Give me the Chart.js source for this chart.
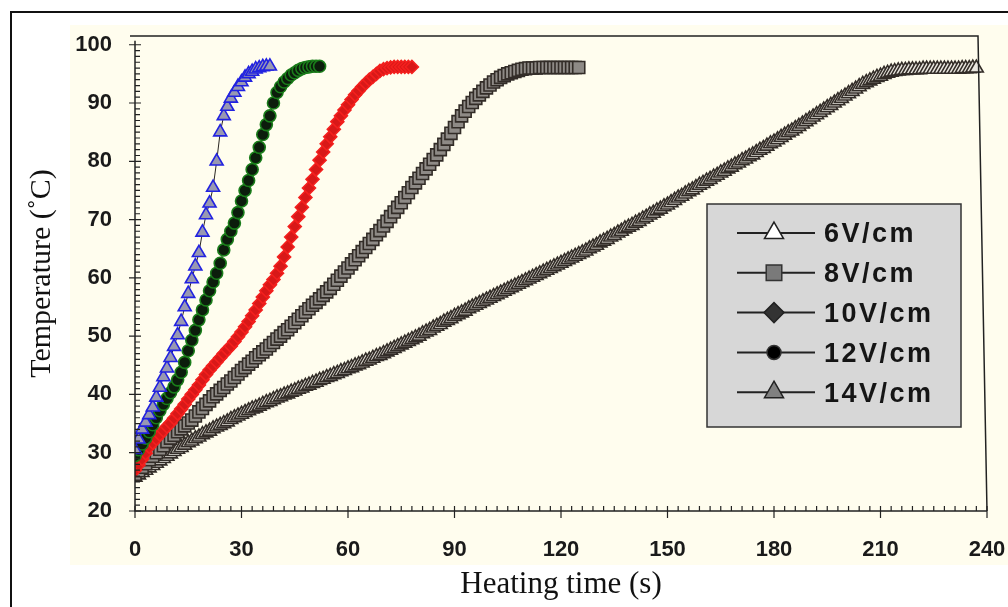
<!DOCTYPE html>
<html>
<head>
<meta charset="utf-8">
<script src="https://cdn.jsdelivr.net/npm/chart.js@4.4.1/dist/chart.umd.min.js"></script>
<style>
html, body { margin: 0; padding: 0; background: #fff; overflow: hidden; }
#wrap { position: relative; width: 1008px; height: 607px; }
</style>
</head>
<body>
<div id="wrap"><canvas id="myChart" width="1008" height="607"></canvas></div>
<script>
'use strict';

// heating curves, one reading per second (temperature in deg C)
var time6 = [0, 1, 2, 3, 4, 5, 6, 7, 8, 9, 10, 11, 12, 13, 14, 15, 16, 17, 18, 19,
    20, 21, 22, 23, 24, 25, 26, 27, 28, 29, 30, 31, 32, 33, 34, 35, 36, 37, 38, 39,
    40, 41, 42, 43, 44, 45, 46, 47, 48, 49, 50, 51, 52, 53, 54, 55, 56, 57, 58, 59,
    60, 61, 62, 63, 64, 65, 66, 67, 68, 69, 70, 71, 72, 73, 74, 75, 76, 77, 78, 79,
    80, 81, 82, 83, 84, 85, 86, 87, 88, 89, 90, 91, 92, 93, 94, 95, 96, 97, 98, 99,
    100, 101, 102, 103, 104, 105, 106, 107, 108, 109, 110, 111, 112, 113, 114, 115, 116, 117, 118, 119,
    120, 121, 122, 123, 124, 125, 126, 127, 128, 129, 130, 131, 132, 133, 134, 135, 136, 137, 138, 139,
    140, 141, 142, 143, 144, 145, 146, 147, 148, 149, 150, 151, 152, 153, 154, 155, 156, 157, 158, 159,
    160, 161, 162, 163, 164, 165, 166, 167, 168, 169, 170, 171, 172, 173, 174, 175, 176, 177, 178, 179,
    180, 181, 182, 183, 184, 185, 186, 187, 188, 189, 190, 191, 192, 193, 194, 195, 196, 197, 198, 199,
    200, 201, 202, 203, 204, 205, 206, 207, 208, 209, 210, 211, 212, 213, 214, 215, 216, 217, 218, 219,
    220, 221, 222, 223, 224, 225, 226, 227, 228, 229, 230, 231, 232, 233, 234, 235, 236, 237];
var temp6 = [25.8, 26.2, 26.6, 27.0, 27.4, 27.8, 28.2, 28.6, 29.0, 29.4, 29.8, 30.2, 30.6, 30.9, 31.3, 31.7, 32.0, 32.4, 32.7, 33.1,
    33.4, 33.7, 34.1, 34.4, 34.7, 35.0, 35.3, 35.7, 36.0, 36.3, 36.6, 36.9, 37.2, 37.5, 37.7, 38.0, 38.3, 38.6, 38.8, 39.1,
    39.4, 39.6, 39.9, 40.1, 40.4, 40.6, 40.9, 41.1, 41.4, 41.6, 41.9, 42.1, 42.4, 42.6, 42.9, 43.1, 43.4, 43.6, 43.9, 44.1,
    44.4, 44.6, 44.9, 45.1, 45.4, 45.7, 45.9, 46.2, 46.5, 46.7, 47.0, 47.3, 47.6, 47.9, 48.2, 48.5, 48.8, 49.1, 49.4, 49.7,
    50.0, 50.4, 50.7, 51.0, 51.4, 51.7, 52.0, 52.4, 52.7, 53.0, 53.4, 53.7, 54.0, 54.3, 54.7, 55.0, 55.3, 55.6, 55.9, 56.2,
    56.5, 56.8, 57.1, 57.4, 57.7, 58.0, 58.3, 58.6, 58.9, 59.2, 59.5, 59.8, 60.1, 60.4, 60.7, 61.0, 61.3, 61.6, 61.9, 62.2,
    62.5, 62.8, 63.1, 63.4, 63.7, 64.0, 64.3, 64.6, 65.0, 65.3, 65.6, 66.0, 66.3, 66.6, 67.0, 67.3, 67.7, 68.0, 68.4, 68.7,
    69.0, 69.4, 69.7, 70.1, 70.4, 70.8, 71.1, 71.5, 71.8, 72.2, 72.5, 72.9, 73.3, 73.7, 74.0, 74.4, 74.8, 75.1, 75.5, 75.9,
    76.2, 76.6, 76.9, 77.3, 77.6, 78.0, 78.3, 78.7, 79.0, 79.4, 79.7, 80.1, 80.4, 80.8, 81.1, 81.5, 81.9, 82.2, 82.6, 83.0,
    83.3, 83.7, 84.1, 84.5, 84.9, 85.2, 85.6, 86.0, 86.4, 86.8, 87.2, 87.6, 88.0, 88.4, 88.8, 89.2, 89.6, 90.0, 90.4, 90.8,
    91.2, 91.6, 92.0, 92.4, 92.8, 93.2, 93.5, 93.8, 94.1, 94.4, 94.6, 94.9, 95.1, 95.3, 95.4, 95.5, 95.6, 95.6, 95.7, 95.7,
    95.7, 95.7, 95.8, 95.8, 95.8, 95.8, 95.8, 95.8, 95.8, 95.8, 95.8, 95.8, 95.8, 95.9, 95.9, 95.9, 96.0, 96.0];

var time8 = [0, 1, 2, 3, 4, 5, 6, 7, 8, 9, 10, 11, 12, 13, 14, 15, 16, 17, 18, 19,
    20, 21, 22, 23, 24, 25, 26, 27, 28, 29, 30, 31, 32, 33, 34, 35, 36, 37, 38, 39,
    40, 41, 42, 43, 44, 45, 46, 47, 48, 49, 50, 51, 52, 53, 54, 55, 56, 57, 58, 59,
    60, 61, 62, 63, 64, 65, 66, 67, 68, 69, 70, 71, 72, 73, 74, 75, 76, 77, 78, 79,
    80, 81, 82, 83, 84, 85, 86, 87, 88, 89, 90, 91, 92, 93, 94, 95, 96, 97, 98, 99,
    100, 101, 102, 103, 104, 105, 106, 107, 108, 109, 110, 111, 112, 113, 114, 115, 116, 117, 118, 119,
    120, 121, 122, 123, 124, 125];
var temp8 = [26.3, 26.9, 27.5, 28.1, 28.8, 29.4, 30.0, 30.6, 31.2, 31.9, 32.5, 33.0, 33.6, 34.1, 34.6, 35.1, 35.6, 36.3, 37.0, 37.6,
    38.3, 38.9, 39.6, 40.1, 40.7, 41.2, 41.8, 42.3, 42.9, 43.5, 44.1, 44.6, 45.2, 45.7, 46.3, 46.8, 47.3, 47.8, 48.4, 48.9,
    49.5, 50.0, 50.6, 51.1, 51.7, 52.3, 52.9, 53.5, 54.1, 54.7, 55.3, 55.8, 56.4, 57.0, 57.6, 58.2, 58.9, 59.6, 60.3, 61.0,
    61.7, 62.4, 63.1, 63.8, 64.5, 65.2, 65.9, 66.6, 67.4, 68.1, 68.9, 69.7, 70.5, 71.3, 72.1, 72.9, 73.8, 74.6, 75.5, 76.3,
    77.1, 77.9, 78.7, 79.5, 80.3, 81.1, 82.0, 82.9, 83.8, 84.8, 85.8, 86.8, 87.8, 88.6, 89.4, 90.1, 90.8, 91.4, 92.0, 92.6,
    93.1, 93.6, 94.0, 94.4, 94.7, 95.0, 95.2, 95.4, 95.6, 95.8, 95.9, 96.0, 96.0, 96.0, 96.1, 96.1, 96.1, 96.1, 96.1, 96.1,
    96.1, 96.1, 96.1, 96.1, 96.1, 96.1];

var time10 = [0, 1, 2, 3, 4, 5, 6, 7, 8, 9, 10, 11, 12, 13, 14, 15, 16, 17, 18, 19,
    20, 21, 22, 23, 24, 25, 26, 27, 28, 29, 30, 31, 32, 33, 34, 35, 36, 37, 38, 39,
    40, 41, 42, 43, 44, 45, 46, 47, 48, 49, 50, 51, 52, 53, 54, 55, 56, 57, 58, 59,
    60, 61, 62, 63, 64, 65, 66, 67, 68, 69, 70, 71, 72, 73, 74, 75, 76, 77, 78];
var temp10 = [27.0, 27.9, 28.9, 29.9, 31.0, 31.7, 32.4, 33.1, 33.8, 34.5, 35.1, 35.9, 36.7, 37.5, 38.3, 39.2, 40.0, 40.8, 41.6, 42.5,
    43.4, 44.2, 44.9, 45.6, 46.3, 47.0, 47.7, 48.3, 49.1, 49.9, 50.7, 51.6, 52.5, 53.5, 54.5, 55.6, 56.7, 57.8, 58.8, 59.7,
    60.8, 62.0, 63.6, 65.3, 67.0, 68.8, 70.5, 72.1, 73.8, 75.4, 76.9, 78.6, 80.2, 81.6, 83.0, 84.2, 85.5, 86.8, 87.8, 88.8,
    89.7, 90.6, 91.4, 92.1, 92.8, 93.4, 94.0, 94.5, 95.0, 95.5, 95.8, 96.0, 96.1, 96.2, 96.2, 96.2, 96.2, 96.2, 96.2];

var time12 = [0, 1, 2, 3, 4, 5, 6, 7, 8, 9, 10, 11, 12, 13, 14, 15, 16, 17, 18, 19,
    20, 21, 22, 23, 24, 25, 26, 27, 28, 29, 30, 31, 32, 33, 34, 35, 36, 37, 38, 39,
    40, 41, 42, 43, 44, 45, 46, 47, 48, 49, 50, 51, 52];
var temp12 = [29.5, 30.5, 31.5, 32.5, 33.6, 34.8, 36.0, 37.2, 38.3, 39.3, 40.3, 41.3, 42.5, 43.8, 45.5, 47.5, 49.3, 51.0, 52.8, 54.5,
    56.2, 57.8, 59.3, 60.8, 62.5, 64.8, 66.6, 68.0, 69.4, 71.2, 73.2, 75.0, 76.7, 78.6, 80.6, 82.4, 84.6, 86.3, 87.8, 90.0,
    91.8, 92.8, 93.6, 94.2, 94.8, 95.2, 95.6, 95.9, 96.1, 96.2, 96.3, 96.3, 96.3];

var time14 = [0, 1, 2, 3, 4, 5, 6, 7, 8, 9, 10, 11, 12, 13, 14, 15, 16, 17, 18, 19,
    20, 21, 22, 23, 24, 25, 26, 27, 28, 29, 30, 31, 32, 33, 34, 35, 36, 37, 38];
var temp14 = [30.5, 32.3, 34.0, 35.2, 36.5, 37.8, 39.5, 41.2, 43.0, 44.5, 46.3, 48.2, 50.2, 52.5, 55.0, 57.3, 59.8, 62.0, 64.3, 67.8,
    70.8, 72.8, 75.5, 80.0, 85.0, 87.8, 89.4, 90.8, 91.8, 92.8, 93.6, 94.4, 95.0, 95.4, 95.8, 96.0, 96.2, 96.3, 96.3];

var seriesLabels = ['6V/cm', '8V/cm', '10V/cm', '12V/cm', '14V/cm'];
var xTicks = [0, 30, 60, 90, 120, 150, 180, 210, 240];
var yTicks = [20, 30, 40, 50, 60, 70, 80, 90, 100];

function pts(xs, ys) {
    return xs.map(function (x, i) { return {x: x, y: ys[i]}; });
}

var lineColor = '#2a2622';

function series(label, data, style, fill, stroke, radius, order, legend) {
    return {
        label: label,
        data: data,
        borderColor: lineColor,
        borderWidth: 1,
        pointStyle: style,
        pointRadius: radius,
        pointHoverRadius: radius,
        pointBackgroundColor: fill,
        pointBorderColor: stroke,
        pointBorderWidth: 1.6,
        order: order,
        legendMark: legend
    };
}

var datasets = [
    series(seriesLabels[0], pts(time6, temp6), 'triangle', '#e9e6df', '#332d28', 8, 5,
        {fill: '#ffffff', stroke: '#222', r: 11}),
    series(seriesLabels[1], pts(time8, temp8), 'rect', '#8e8a86', '#332d28', 8.5, 4,
        {fill: '#7a7a7a', stroke: '#333', r: 11}),
    series(seriesLabels[2], pts(time10, temp10), 'rectRot', '#d81818', '#f3201e', 6.5, 3,
        {fill: '#333', stroke: '#222', r: 10}),
    series(seriesLabels[3], pts(time12, temp12), 'circle', '#0c1d0c', '#1a7d1a', 6, 2,
        {fill: '#000', stroke: '#333', r: 7}),
    series(seriesLabels[4], pts(time14, temp14), 'triangle', '#9898b2', '#2222e0', 7.5, 1,
        {fill: '#808080', stroke: '#222', r: 11})
];

// page background, ivory panel and the outer frame
var backdrop = {
    id: 'backdrop',
    beforeDraw: function (chart) {
        var ctx = chart.ctx;
        ctx.save();
        ctx.fillStyle = '#ffffff';
        ctx.fillRect(0, 0, chart.width, chart.height);
        ctx.fillStyle = '#fffdee';
        ctx.fillRect(70, 25, chart.width - 70, 540);
        ctx.strokeStyle = '#111';
        ctx.lineWidth = 2;
        ctx.strokeRect(11, 12, chart.width + 20, chart.height + 20);
        ctx.restore();
    }
};

// axis lines, crossing major ticks, minor ticks, box lines and the legend
var decor = {
    id: 'decor',
    afterDraw: function (chart) {
        var ctx = chart.ctx;
        var xs = chart.scales.x, ys = chart.scales.y;
        var a = chart.chartArea;
        var x0 = xs.getPixelForValue(0), y0 = ys.getPixelForValue(20);
        var yTop = ys.getPixelForValue(100);
        var i, p;
        ctx.save();
        ctx.strokeStyle = '#222';
        ctx.lineWidth = 1.5;
        ctx.beginPath();
        ctx.moveTo(x0, yTop - 4);
        ctx.lineTo(x0, y0);
        ctx.lineTo(xs.getPixelForValue(240), y0);
        ctx.stroke();

        ctx.beginPath();
        ctx.moveTo(x0 - 5, a.top);
        ctx.lineTo(a.right - 9, a.top);
        ctx.lineTo(a.right, y0);
        ctx.stroke();

        ctx.lineWidth = 1.2;
        ctx.beginPath();
        for (i = 20; i <= 100; i++) {
            p = ys.getPixelForValue(i);
            if (i % 10 === 0) {
                ctx.moveTo(x0 - 6, p);
                ctx.lineTo(x0 + 6, p);
            } else {
                ctx.moveTo(x0, p);
                ctx.lineTo(x0 + 5, p);
            }
        }
        for (i = 0; i <= 240; i += 3) {
            p = xs.getPixelForValue(i);
            if (i % 30 === 0) {
                ctx.moveTo(p, y0 - 5);
                ctx.lineTo(p, y0 + 7);
            } else {
                ctx.moveTo(p, y0 - 5);
                ctx.lineTo(p, y0);
            }
        }
        ctx.stroke();

        // legend
        ctx.fillStyle = '#d7d7d7';
        ctx.fillRect(707, 204, 254, 223);
        ctx.strokeStyle = '#333';
        ctx.lineWidth = 1.5;
        ctx.strokeRect(707, 204, 254, 223);
        chart.data.datasets.forEach(function (ds, k) {
            var ly = 233 + k * 39.8;
            var m = ds.legendMark;
            ctx.strokeStyle = '#222';
            ctx.lineWidth = 2;
            ctx.beginPath();
            ctx.moveTo(737, ly);
            ctx.lineTo(815, ly);
            ctx.stroke();
            ctx.fillStyle = m.fill;
            ctx.strokeStyle = m.stroke;
            ctx.lineWidth = 1.5;
            Chart.helpers.drawPoint(ctx, {pointStyle: ds.pointStyle, radius: m.r, borderWidth: 1.5, rotation: 0}, 774, ly);
            ctx.fillStyle = '#151515';
            ctx.font = 'bold 27px "Liberation Sans", Arial, sans-serif';
            ctx.letterSpacing = '2.5px';
            ctx.textBaseline = 'middle';
            ctx.textAlign = 'left';
            ctx.fillText(ds.label, 824, ly + 2);
        });
        ctx.restore();
    }
};

var ctx = document.getElementById('myChart').getContext('2d');
var myChart = new Chart(ctx, {
    type: 'line',
    data: {datasets: datasets},
    plugins: [backdrop, decor],
    options: {
        responsive: false,
        animation: false,
        devicePixelRatio: 1,
        layout: {padding: {left: 0, top: 36, right: 21, bottom: 0}},
        plugins: {
            legend: {display: false},
            tooltip: {enabled: false}
        },
        scales: {
            x: {
                type: 'linear',
                min: 0,
                max: 240,
                grid: {display: false, drawTicks: false},
                border: {display: false},
                afterBuildTicks: function (scale) {
                    scale.ticks = xTicks.map(function (v) { return {value: v}; });
                },
                afterFit: function (scale) {
                    scale.height = 96;
                    scale.paddingLeft = 0;
                    scale.paddingRight = 0;
                },
                ticks: {
                    padding: 26,
                    maxRotation: 0,
                    color: '#1a1a1a',
                    font: {family: '"Liberation Sans", Arial, sans-serif', size: 22, weight: 'bold'}
                },
                title: {
                    display: true,
                    text: 'Heating time (s)',
                    color: '#111',
                    padding: {top: 0, bottom: 4},
                    font: {family: '"Liberation Serif", "Times New Roman", serif', size: 31, weight: 'normal'}
                }
            },
            y: {
                type: 'linear',
                min: 20,
                max: 101.5,
                grid: {display: false, drawTicks: false},
                border: {display: false},
                afterBuildTicks: function (scale) {
                    scale.ticks = yTicks.map(function (v) { return {value: v}; });
                },
                afterFit: function (scale) {
                    scale.width = 135;
                    scale.paddingTop = 0;
                    scale.paddingBottom = 0;
                },
                ticks: {
                    padding: 23,
                    color: '#1a1a1a',
                    font: {family: '"Liberation Sans", Arial, sans-serif', size: 22, weight: 'bold'}
                },
                title: {
                    display: true,
                    text: 'Temperature (˚C)',
                    color: '#111',
                    padding: {top: 24, bottom: 0},
                    font: {family: '"Liberation Serif", "Times New Roman", serif', size: 30, weight: 'normal'}
                }
            }
        }
    }
});
</script>
</body>
</html>
